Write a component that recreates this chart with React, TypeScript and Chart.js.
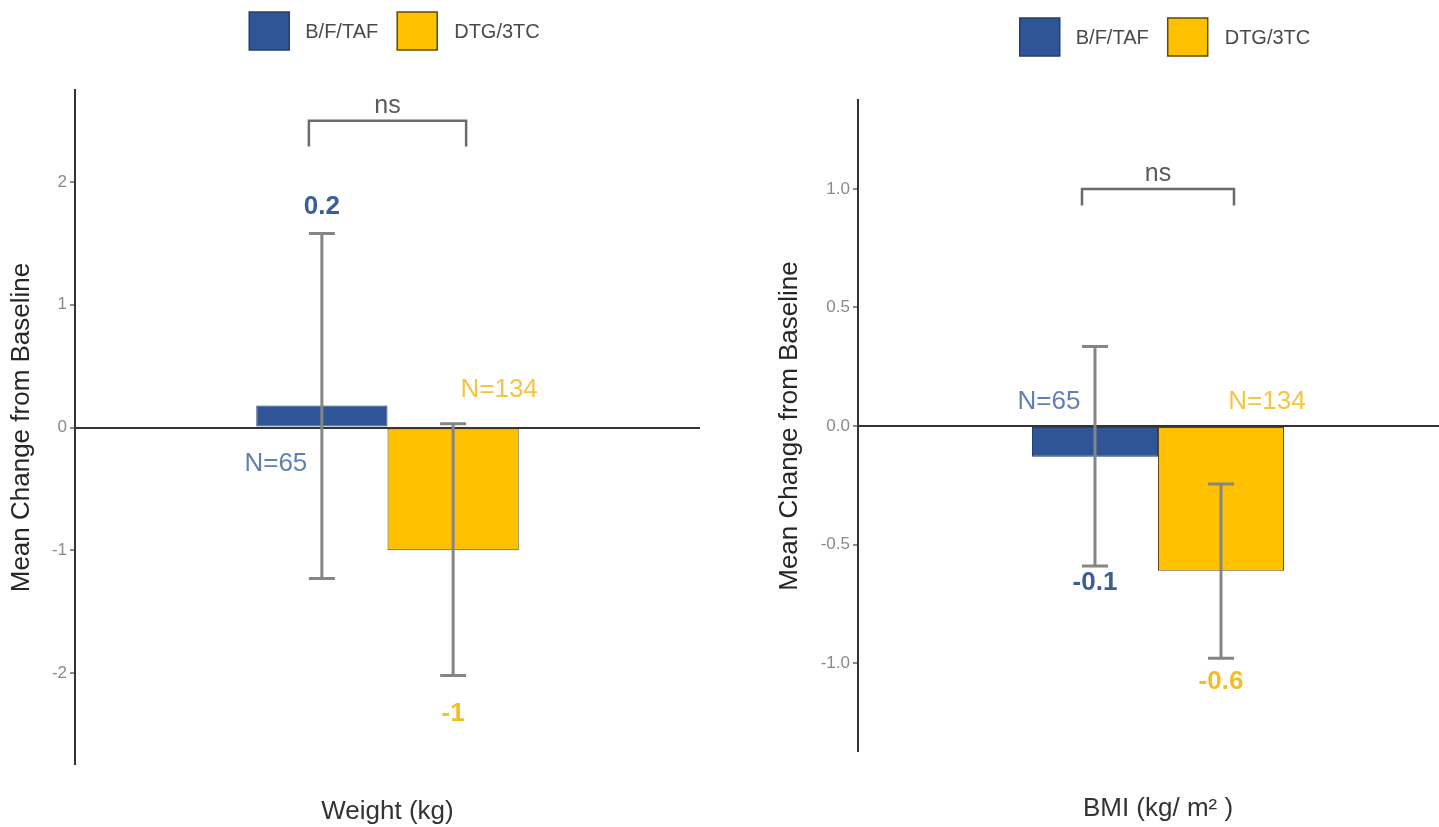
import React, { useEffect, useRef } from "react";
import { Chart, registerables } from "chart.js";

Chart.register(...registerables);

// ---------- data ----------
const seriesNames = ["B/F/TAF", "DTG/3TC"];
const seriesColors = ["#2F5597", "#FFC000"];
const seriesBorders = ["#23406E", "#5C4A10"];
const nLabelColors = ["#5F80B6", "#F6C444"];
const valueLabelColors = ["#3A5E96", "#F2BE26"];

const weightCategory = ["Weight (kg)"];
const weightMeans = [0.18, -1.0];
const weightLower = [-1.23, -2.02];
const weightUpper = [1.58, 0.03];
const weightValueLabels = ["0.2", "-1"];
const weightValueLabelY = [1.8, -2.33];
const weightNLabels = ["N=65", "N=134"];
const weightNLabelY = [-0.3, 0.31];
const weightTicks = [-2, -1, 0, 1, 2];
const weightRange = [-2.75, 2.75];
const weightBracket = [2.5, 2.29];

const bmiCategory = ["BMI (kg/ m\u00B2 )"];
const bmiMeans = [-0.13, -0.61];
const bmiLower = [-0.59, -0.98];
const bmiUpper = [0.335, -0.245];
const bmiValueLabels = ["-0.1", "-0.6"];
const bmiValueLabelY = [-0.66, -1.08];
const bmiNLabels = ["N=65", "N=134"];
const bmiNLabelY = [0.1, 0.1];
const bmiTicks = [-1, -0.5, 0, 0.5, 1];
const bmiRange = [-1.375, 1.375];
const bmiBracket = [1.0, 0.93];

const sigLabel = "ns";
const FONT = "'Liberation Sans', Arial, Helvetica, sans-serif";

type Panel = {
  category: string[];
  means: number[];
  lower: number[];
  upper: number[];
  valueLabels: string[];
  valueLabelY: number[];
  nLabels: string[];
  nLabelY: number[];
  ticks: number[];
  range: number[];
  bracket: number[];
  decimals: number;
  // layout
  canvasLeft: number;
  canvasWidth: number;
  padLeft: number;
  padRight: number;
  padTop: number;
  yAxisWidth: number;
  xAxisHeight: number;
  xTitlePad: number;
  legendTop: number;
};

const panels: Panel[] = [
  {
    category: weightCategory,
    means: weightMeans,
    lower: weightLower,
    upper: weightUpper,
    valueLabels: weightValueLabels,
    valueLabelY: weightValueLabelY,
    nLabels: weightNLabels,
    nLabelY: weightNLabelY,
    ticks: weightTicks,
    range: weightRange,
    bracket: weightBracket,
    decimals: 0,
    canvasLeft: 0,
    canvasWidth: 720,
    padLeft: 0,
    padRight: 20,
    padTop: 90,
    yAxisWidth: 75,
    xAxisHeight: 62,
    xTitlePad: 1,
    legendTop: 12,
  },
  {
    category: bmiCategory,
    means: bmiMeans,
    lower: bmiLower,
    upper: bmiUpper,
    valueLabels: bmiValueLabels,
    valueLabelY: bmiValueLabelY,
    nLabels: bmiNLabels,
    nLabelY: bmiNLabelY,
    ticks: bmiTicks,
    range: bmiRange,
    bracket: bmiBracket,
    decimals: 1,
    canvasLeft: 720,
    canvasWidth: 760,
    padLeft: 48,
    padRight: 22,
    padTop: 100,
    yAxisWidth: 90,
    xAxisHeight: 75,
    xTitlePad: 4,
    legendTop: 18,
  },
];

function PanelChart({ p }: { p: Panel }) {
  const ref = useRef<HTMLCanvasElement | null>(null);

  useEffect(() => {
    if (!ref.current) return;

    const overlay = {
      id: "overlay",
      afterDraw(chart: any) {
        const ctx = chart.ctx;
        const ys = chart.scales.y;
        const area = chart.chartArea;
        const bars = [0, 1].map((i) => chart.getDatasetMeta(i).data[0]);
        ctx.save();

        // error bars
        ctx.strokeStyle = "#858585";
        ctx.lineWidth = 3;
        bars.forEach((b: any, i: number) => {
          const yt = ys.getPixelForValue(p.upper[i]);
          const yb = ys.getPixelForValue(p.lower[i]);
          ctx.beginPath();
          ctx.moveTo(b.x, yt);
          ctx.lineTo(b.x, yb);
          ctx.moveTo(b.x - 13, yt);
          ctx.lineTo(b.x + 13, yt);
          ctx.moveTo(b.x - 13, yb);
          ctx.lineTo(b.x + 13, yb);
          ctx.stroke();
        });

        // N labels and value labels
        ctx.textAlign = "center";
        ctx.textBaseline = "middle";
        bars.forEach((b: any, i: number) => {
          ctx.font = `26px ${FONT}`;
          ctx.fillStyle = nLabelColors[i];
          ctx.fillText(p.nLabels[i], b.x + (i === 0 ? -46 : 46), ys.getPixelForValue(p.nLabelY[i]));
          ctx.font = `bold 26px ${FONT}`;
          ctx.fillStyle = valueLabelColors[i];
          ctx.fillText(p.valueLabels[i], b.x, ys.getPixelForValue(p.valueLabelY[i]));
        });

        // significance bracket
        const xl = bars[0].x - 13;
        const xr = bars[1].x + 13;
        const yTop = ys.getPixelForValue(p.bracket[0]);
        const yTip = ys.getPixelForValue(p.bracket[1]);
        ctx.strokeStyle = "#6a6a6a";
        ctx.lineWidth = 2.5;
        ctx.beginPath();
        ctx.moveTo(xl, yTip);
        ctx.lineTo(xl, yTop);
        ctx.lineTo(xr, yTop);
        ctx.lineTo(xr, yTip);
        ctx.stroke();
        ctx.font = `25px ${FONT}`;
        ctx.fillStyle = "#5a5a5a";
        ctx.fillText(sigLabel, (xl + xr) / 2, yTop - 15);

        // legend
        ctx.font = `20px ${FONT}`;
        const box = 40;
        const boxH = 38;
        const w0 = ctx.measureText(seriesNames[0]).width;
        const w1 = ctx.measureText(seriesNames[1]).width;
        const total = box + 16 + w0 + 19 + box + 17 + w1;
        let x = (area.left + area.right) / 2 - total / 2 + 7;
        const top = p.legendTop;
        ctx.textAlign = "left";
        [0, 1].forEach((i) => {
          ctx.fillStyle = seriesColors[i];
          ctx.fillRect(x, top, box, boxH);
          ctx.strokeStyle = seriesBorders[i];
          ctx.lineWidth = 1.5;
          ctx.strokeRect(x, top, box, boxH);
          x += box + (i === 0 ? 16 : 17);
          ctx.fillStyle = "#4a4a4a";
          ctx.fillText(seriesNames[i], x, top + boxH / 2 + 1);
          x += (i === 0 ? w0 : w1) + 19;
        });

        ctx.restore();
      },
    };

    const chart = new Chart(ref.current, {
      type: "bar",
      data: {
        labels: p.category,
        datasets: [0, 1].map((i) => ({
          label: seriesNames[i],
          data: [p.means[i]],
          backgroundColor: seriesColors[i],
          borderColor: seriesBorders[i],
          borderWidth: 1,
          borderSkipped: false,
          categoryPercentage: 0.42,
          barPercentage: 1.0,
        })),
      },
      options: {
        responsive: false,
        animation: false,
        devicePixelRatio: 1,
        layout: {
          padding: { left: p.padLeft, right: p.padRight, top: p.padTop, bottom: 0 },
        },
        plugins: {
          legend: { display: false },
          tooltip: { enabled: false },
        },
        scales: {
          x: {
            grid: { display: false },
            border: { display: false },
            ticks: { display: false },
            title: {
              display: true,
              text: p.category[0],
              color: "#333333",
              font: { family: FONT, size: 26, lineHeight: 1.1 },
              padding: { top: 0, bottom: p.xTitlePad },
            },
            afterFit: (s: any) => {
              s.height = p.xAxisHeight;
            },
          },
          y: {
            min: p.range[0],
            max: p.range[1],
            afterBuildTicks: (s: any) => {
              s.ticks = p.ticks.map((v) => ({ value: v }));
            },
            afterFit: (s: any) => {
              s.width = p.yAxisWidth;
            },
            border: { display: true, color: "#333333", width: 2 },
            grid: {
              drawOnChartArea: true,
              drawTicks: true,
              tickLength: 5,
              tickColor: "#666666",
              tickWidth: 1.5,
              color: (c: any) => (c.tick && c.tick.value === 0 ? "#333333" : "rgba(0,0,0,0)"),
              lineWidth: (c: any) => (c.tick && c.tick.value === 0 ? 2 : 0),
            },
            ticks: {
              color: "#8a8a8a",
              padding: 3,
              font: { family: FONT, size: 17 },
              callback: (v: any) => Number(v).toFixed(p.decimals),
            },
            title: {
              display: true,
              text: "Mean Change from Baseline",
              color: "#262626",
              font: { family: FONT, size: 26, lineHeight: 1.2 },
              padding: { top: 6, bottom: 0 },
            },
          },
        },
      },
      plugins: [overlay],
    } as any);

    return () => chart.destroy();
  }, [p]);

  return (
    <canvas
      ref={ref}
      width={p.canvasWidth}
      height={827}
      style={{ position: "absolute", left: p.canvasLeft, top: 0, display: "block" }}
    />
  );
}

export default function App() {
  return (
    <div
      style={{
        position: "fixed",
        left: 0,
        top: 0,
        width: 1439,
        height: 827,
        overflow: "hidden",
        background: "#ffffff",
      }}
    >
      {panels.map((p, i) => (
        <PanelChart key={i} p={p} />
      ))}
    </div>
  );
}
